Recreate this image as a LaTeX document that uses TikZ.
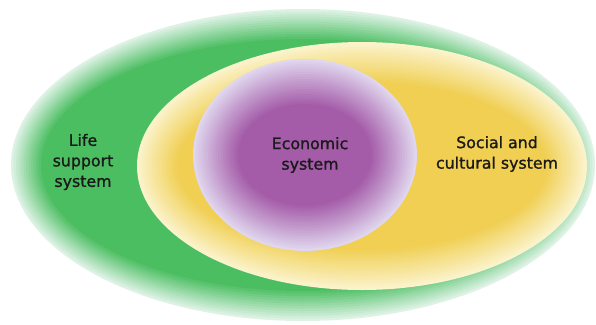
\documentclass[tikz,border=0pt]{standalone}
\usepackage{fontspec}
\setmainfont{DejaVu Sans}
\newfontfamily\labelfont[FakeBold=1.2]{DejaVu Sans}
\usepackage{xcolor}
\definecolor{lifegreen}{HTML}{4CBE62}
\definecolor{lifemint}{HTML}{DDF2E4}
\definecolor{socyellow}{HTML}{F0CF52}
\definecolor{soccream}{HTML}{FBF3CC}
\definecolor{ecopurple}{HTML}{A45BA8}
\definecolor{ecolilac}{HTML}{E0D6EE}
\definecolor{labeltext}{HTML}{1A1A1A}

\begin{document}
\begin{tikzpicture}[x=1pt,y=-1pt,
		systemlabel/.style={align=center,text=labeltext,font=\labelfont\fontsize{15.8}{20.5}\selectfont,inner sep=0pt}]
			\useasboundingbox (0,0) rectangle (596,324);
			\coordinate (lifec) at (303,165);
			\coordinate (socc) at (362,166);
			\coordinate (ecoc) at (305,155);
			% life support system
			\foreach \i in {0,...,12}{
				\pgfmathsetmacro{\p}{100*\i/12}
				\pgfmathsetmacro{\rx}{292-2.5*\i}
				\pgfmathsetmacro{\ry}{156-2.5*\i}
				\fill[lifegreen!\p!lifemint] (lifec) ellipse [x radius=\rx pt, y radius=\ry pt];
			}
			% social and cultural system
			\foreach \i in {0,...,16}{
				\pgfmathsetmacro{\p}{100*\i/16}
				\pgfmathsetmacro{\rx}{225-2.5*\i}
				\pgfmathsetmacro{\ry}{124-2.5*\i}
				\fill[socyellow!\p!soccream] (socc) ellipse [x radius=\rx pt, y radius=\ry pt];
			}
			% economic system
			\foreach \i in {0,...,18}{
				\pgfmathsetmacro{\p}{100*\i/18}
				\pgfmathsetmacro{\rx}{112-2.5*\i}
				\pgfmathsetmacro{\ry}{96-2.5*\i}
				\fill[ecopurple!\p!ecolilac] (ecoc) ellipse [x radius=\rx pt, y radius=\ry pt];
			}
			\node[systemlabel] (life) at (83,162) {Life\\support\\system};
			\node[systemlabel] (social) at (497,154) {Social and\\cultural system};
			\node[systemlabel] (economic) at (310,155) {Economic\\system};
		\end{tikzpicture}
\end{document}
